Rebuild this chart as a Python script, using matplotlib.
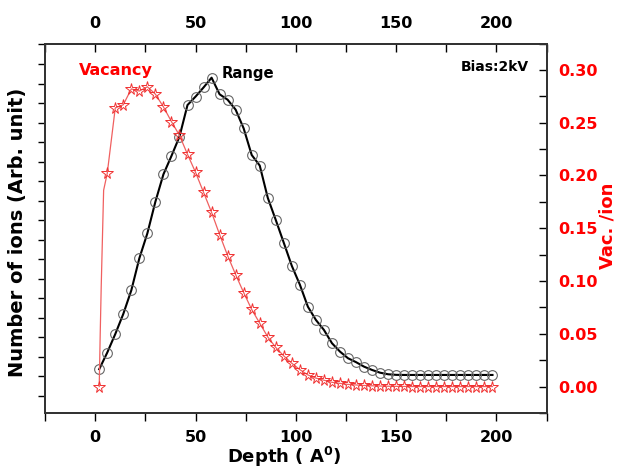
import numpy as np
import matplotlib.pyplot as plt
from matplotlib.ticker import MultipleLocator, NullFormatter, FixedLocator

plt.rcParams['font.family'] = ['DejaVu Sans']
plt.rcParams['font.weight'] = 'bold'
plt.rcParams['axes.labelweight'] = 'bold'
plt.rcParams['mathtext.default'] = 'bf'

# Depth values (Angstrom) for both series
depth = np.arange(2, 200, 4)
depth_ticks = [0, 50, 100, 150, 200]

# Range profile (number of ions, arbitrary units)
range_ions = [1.37, 2.22, 3.17, 4.20, 5.41, 7.05, 8.33, 9.95, 11.35, 12.29,
              13.28, 14.90, 15.33, 15.80, 16.30, 15.45, 15.17, 14.66, 13.70, 12.34,
              11.80, 10.15, 9.01, 7.84, 6.66, 5.70, 4.57, 3.89, 3.38, 2.70,
              2.27, 1.93, 1.73, 1.50, 1.33, 1.19, 1.11, 1.08, 1.075, 1.075,
              1.075, 1.075, 1.075, 1.075, 1.075, 1.075, 1.075, 1.075, 1.075, 1.075]

# Vacancies per ion
vacancy = [0.0, 0.202, 0.264, 0.267, 0.282, 0.280, 0.284, 0.277, 0.265, 0.251,
           0.238, 0.220, 0.203, 0.184, 0.165, 0.144, 0.124, 0.106, 0.089, 0.073,
           0.060, 0.047, 0.037, 0.029, 0.022, 0.016, 0.011, 0.008, 0.006, 0.004,
           0.003, 0.002, 0.0015, 0.001, 0.0007, 0.0005, 0.0003, 0.0002, 0.0001, 0.0,
           0.0, 0.0, 0.0, 0.0, 0.0, 0.0, 0.0, 0.0, 0.0, 0.0]

# the thin red line rises almost vertically near the surface
vac_line_x = [2, 2.5, 3, 4.2] + list(depth[1:])
vac_line_y = [0.0, 0.05, 0.095, 0.186] + vacancy[1:]

fig = plt.figure(figsize=(6.17, 4.73), dpi=100)
ax = fig.add_axes([0.073, 0.127, 0.813, 0.781])
ax2 = ax.twinx()

ax.plot(depth, range_ions, color='black', lw=1.5, zorder=3)
ax.plot(depth, range_ions, 'o', mfc='none', mec='#666666', ms=7, mew=0.8, zorder=4)

ax2.plot(vac_line_x, vac_line_y, color='#f06060', lw=0.9)
ax2.plot(depth, vacancy, '*', mfc='none', mec='#f03030', ms=8.5, mew=0.7)

ax.set_xlim(-25, 225)
ax.set_ylim(-0.87, 18.05)
ax2.set_ylim(-0.025, 0.325)

ax.xaxis.set_major_locator(FixedLocator(depth_ticks))
ax.xaxis.set_minor_locator(MultipleLocator(25))
ax.yaxis.set_major_locator(MultipleLocator(1))
ax.yaxis.set_major_formatter(NullFormatter())
ax2.yaxis.set_major_locator(MultipleLocator(0.05))
ax2.yaxis.set_minor_locator(MultipleLocator(0.025))
ax2.yaxis.set_major_formatter(plt.FormatStrFormatter('%.2f'))

ax.tick_params(axis='x', direction='out', length=6, width=1, labelsize=11.5, pad=6)
ax.tick_params(axis='x', which='minor', direction='out', length=6, width=1)
ax.tick_params(axis='y', direction='out', length=5, width=1)
ax2.tick_params(axis='y', direction='in', length=6, width=1, labelsize=11.5,
                labelcolor='red', pad=8)
ax2.tick_params(axis='y', which='minor', direction='in', length=6, width=1)

top = ax.secondary_xaxis('top')
top.xaxis.set_major_locator(FixedLocator(depth_ticks))
top.xaxis.set_minor_locator(MultipleLocator(25))
top.tick_params(direction='in', length=6, width=1, labelsize=11.5, pad=9)
top.tick_params(which='minor', direction='in', length=6, width=1)

for a in (ax, ax2):
    for s in a.spines.values():
        s.set_linewidth(1.3)
        s.set_color('#333333')
top.spines['top'].set_linewidth(1.3)
top.spines['top'].set_color('#333333')

ax.set_xlabel(r'Depth ( A$^{0}$)', fontsize=13)
ax.set_ylabel('Number of ions (Arb. unit)', fontsize=14)
ax2.set_ylabel('Vac. /ion', fontsize=13, color='red')
ax.xaxis.set_label_coords(0.476, -0.086)
ax.yaxis.set_label_coords(-0.036, 0.49)
ax2.yaxis.set_label_coords(1.104, 0.506)

ax2.text(-8, 0.2996, 'Vacancy', color='red', fontsize=11.5, va='center')
ax2.text(63, 0.297, 'Range', color='black', fontsize=10.7, va='center')
ax2.text(216, 0.303, 'Bias:2kV', color='black', fontsize=10, va='center', ha='right')

fig.savefig('out.png', dpi=100)
